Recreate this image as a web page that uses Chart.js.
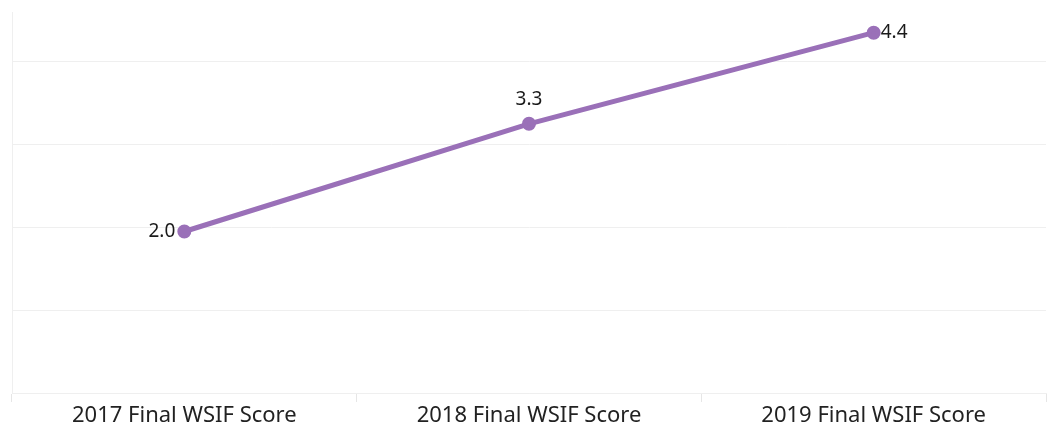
<!DOCTYPE html>
<html>
<head>
<meta charset="utf-8">
<script src="https://cdn.jsdelivr.net/npm/chart.js@4"></script>
<style>
  body { margin: 0; background: #fff; }
  #wrap { width: 1049px; height: 430px; }
</style>
</head>
<body>
<div id="wrap"><canvas id="myChart"></canvas></div>
<script>
const categories = ["2017 Final WSIF Score", "2018 Final WSIF Score", "2019 Final WSIF Score"];
const scores = [1.95, 3.25, 4.35];

const lineColor = "#9a70b8";
const gridColor = "#efefef";

// where each value label sits next to its point
const labelSide = ["left", "top", "right"];

const valueLabels = {
  id: "valueLabels",
  afterDatasetsDraw(chart) {
    const c = chart.ctx;
    const meta = chart.getDatasetMeta(0);
    c.save();
    c.font = "19px 'Noto Sans', sans-serif";
    c.fillStyle = "#1a1a1a";
    meta.data.forEach((pt, i) => {
      const txt = (Math.round(scores[i] * 10) / 10).toFixed(1);
      const side = labelSide[i];
      c.textBaseline = "middle";
      if (side === "left") {
        c.textAlign = "right";
        c.fillText(txt, pt.x - 9, pt.y);
      } else if (side === "right") {
        c.textAlign = "left";
        c.fillText(txt, pt.x + 7, pt.y);
      } else {
        c.textAlign = "center";
        c.fillText(txt, pt.x, pt.y - 24);
      }
    });
    c.restore();
  },
};

new Chart(document.getElementById("myChart"), {
  type: "line",
  data: {
    labels: categories,
    datasets: [
      {
        data: scores,
        borderColor: lineColor,
        backgroundColor: lineColor,
        borderWidth: 5,
        pointRadius: 4.5,
        pointHoverRadius: 4.5,
        tension: 0,
      },
    ],
  },
  options: {
    responsive: true,
    maintainAspectRatio: false,
    animation: false,
    layout: { autoPadding: false, padding: { left: 12, right: 3, top: 12, bottom: 0 } },
    plugins: {
      legend: { display: false },
      tooltip: { enabled: false },
    },
    scales: {
      x: {
        offset: true,
        grid: {
          offset: true,
          drawOnChartArea: false,
          tickLength: 9,
          color: "#e6e6e6",
        },
        border: { color: gridColor },
        ticks: {
          color: "#222",
          padding: 3,
          font: { family: "'Noto Sans', sans-serif", size: 22, lineHeight: 1 },
        },
      },
      y: {
        min: 0,
        max: 4.6,
        ticks: { display: false, stepSize: 1 },
        grid: {
          drawTicks: false,
          color: (ctx) => (ctx.tick && ctx.tick.value > 4.5 ? "rgba(0,0,0,0)" : gridColor),
        },
        border: { color: gridColor },
      },
    },
  },
  plugins: [valueLabels],
});
</script>
</body>
</html>
